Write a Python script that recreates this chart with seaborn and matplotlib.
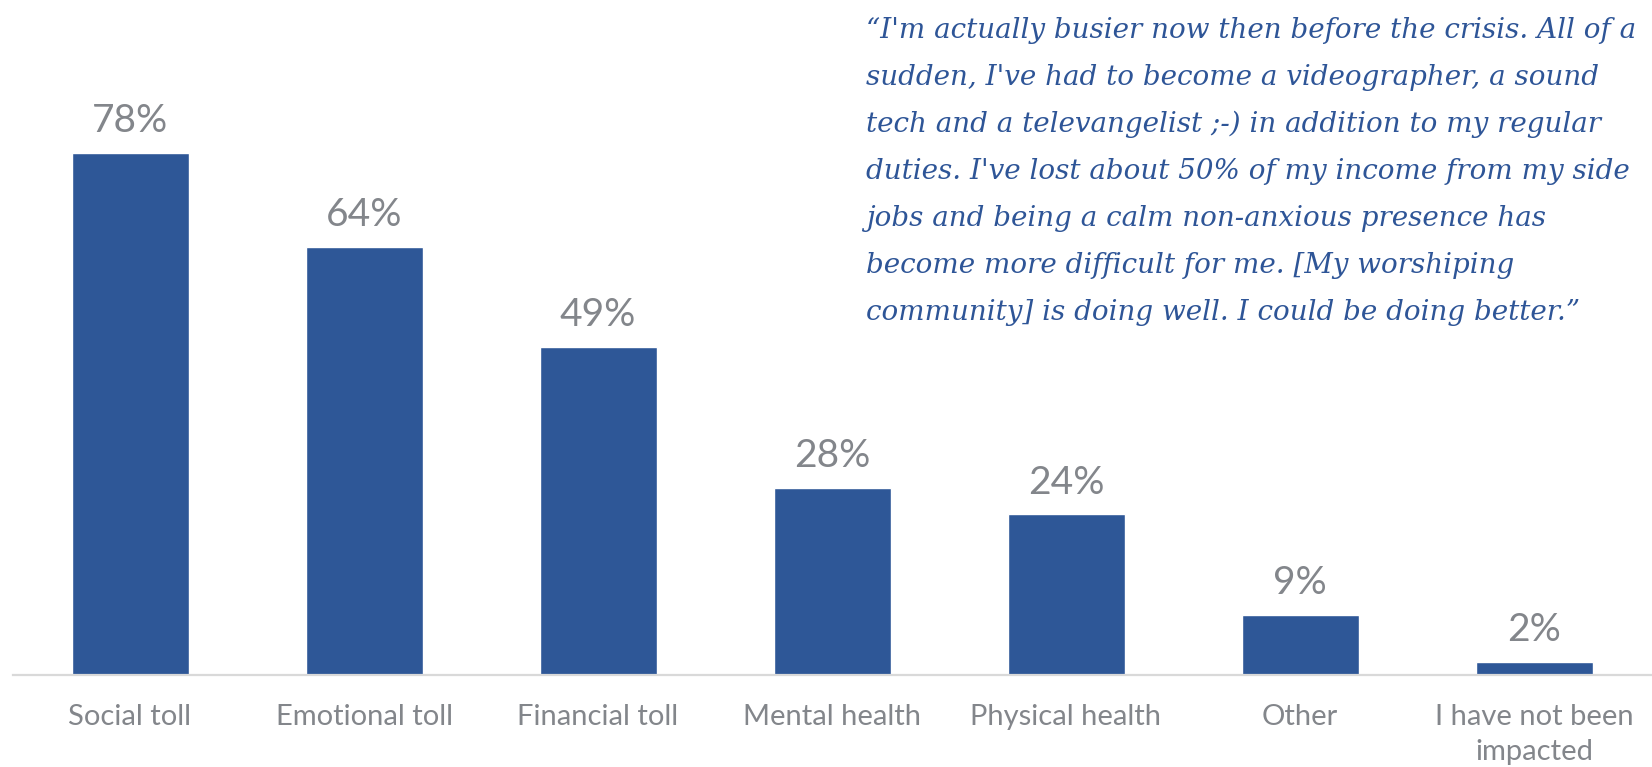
import matplotlib
matplotlib.use("Agg")
import matplotlib.pyplot as plt
import seaborn as sns
import pandas as pd

categories = ["Social toll", "Emotional toll", "Financial toll", "Mental health",
              "Physical health", "Other", "I have not been\nimpacted"]
values = [78, 64, 49, 28, 24, 9, 2]

quote_lines = [
    "\u201cI'm actually busier now then before the crisis. All of a",
    "sudden, I've had to become a videographer, a sound",
    "tech and a televangelist ;-) in addition to my regular",
    "duties. I've lost about 50% of my income from my side",
    "jobs and being a calm non-anxious presence has",
    "become more difficult for me. [My worshiping",
    "community] is doing well. I could be doing better.\u201d",
]

bar_color = "#2E5797"
grey_text = "#83868B"
quote_color = "#2E5597"

sns.set_style("white")
plt.rcParams['font.family'] = ['Lato', 'DejaVu Sans']

df = pd.DataFrame({"category": categories, "value": values})

fig = plt.figure(figsize=(16.52, 7.67), dpi=100)
ax = fig.add_axes([13 / 1652, 92 / 767, 1638 / 1652, 675 / 767])

sns.barplot(data=df, x="category", y="value", color=bar_color, saturation=1,
            width=0.5, ax=ax)

ax.set_xlim(-0.5, 6.5)
ax.set_ylim(0, 100.9)
ax.set_xlabel("")
ax.set_ylabel("")
ax.set_yticks([])
ax.tick_params(axis="x", length=0, pad=21, labelsize=21, labelcolor=grey_text)
for lab in ax.get_xticklabels():
    lab.set_linespacing(1.4)

for side in ["top", "left", "right"]:
    ax.spines[side].set_visible(False)
ax.spines["bottom"].set_color("#D9D9D9")
ax.spines["bottom"].set_linewidth(1.6)

for i, v in enumerate(values):
    ax.annotate(f"{v}%", xy=(i, v), xytext=(0, 15), textcoords="offset points",
                ha="center", va="baseline", fontsize=28, color=grey_text)

# quote in the upper right
for k, line in enumerate(quote_lines):
    fig.text(866 / 1652, 1 - (38 + 47 * k) / 767, line, ha="left", va="baseline",
             fontsize=20, style="italic", color=quote_color,
             family=["DejaVu Serif"])

fig.savefig("out.png", dpi=100)
